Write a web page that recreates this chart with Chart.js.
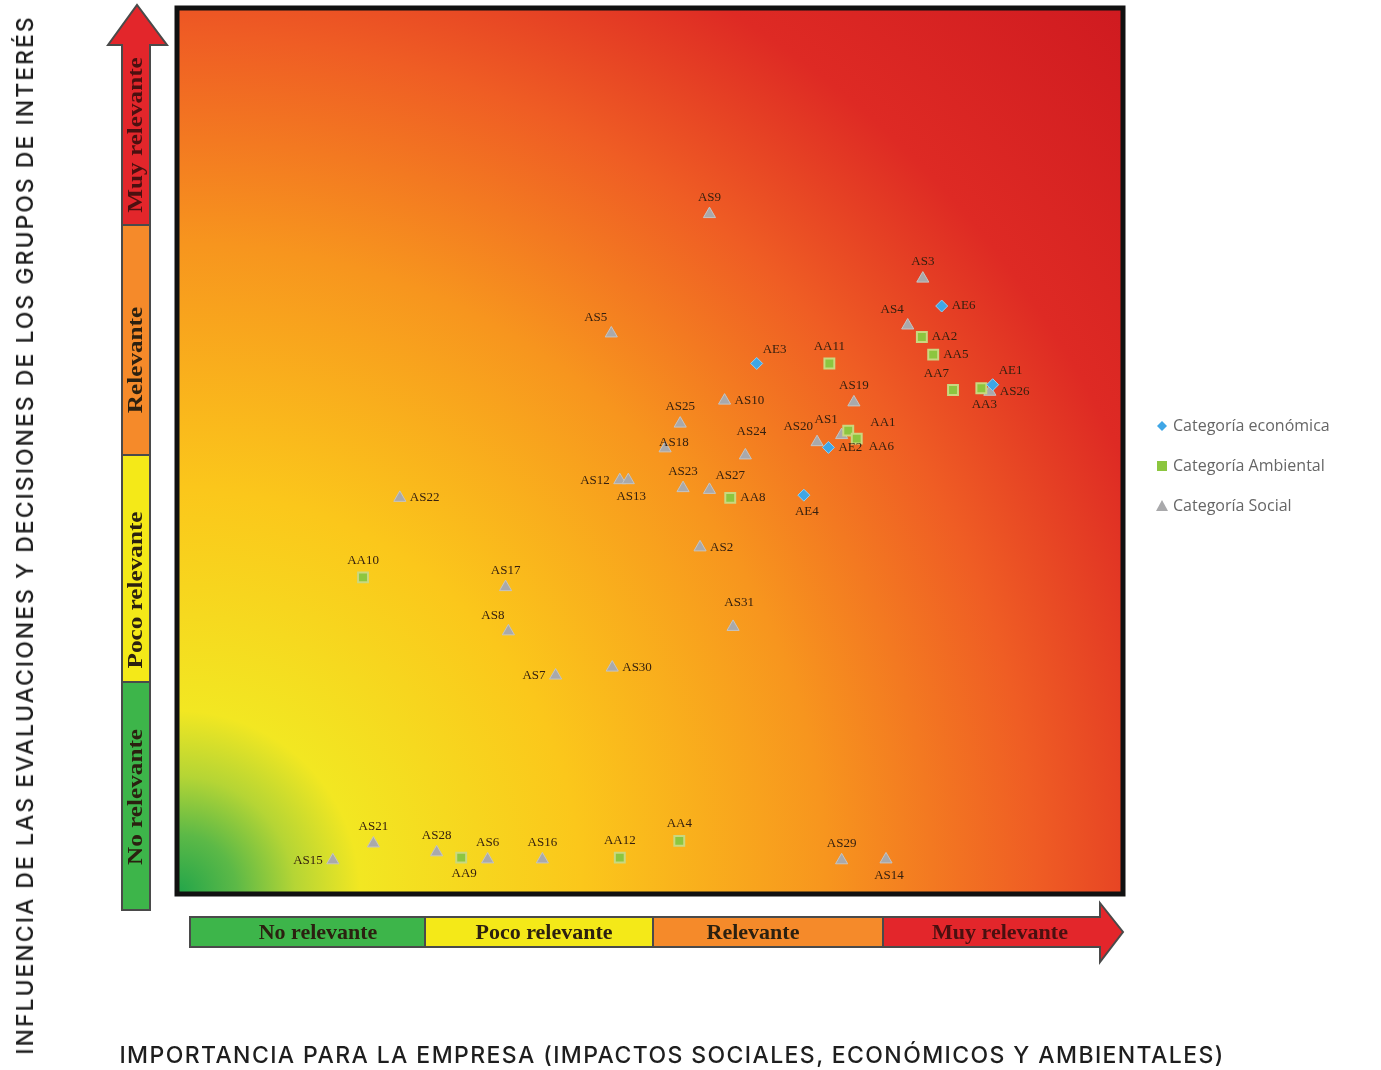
<!DOCTYPE html>
<html>
<head>
<meta charset="utf-8">
<script src="https://cdn.jsdelivr.net/npm/chart.js@4.4.0/dist/chart.umd.min.js"></script>
<style>
  body { margin: 0; background: #fff; width: 1381px; height: 1070px; overflow: hidden; position: relative; }
  #wrap { position: absolute; left: 0; top: 0; width: 1381px; height: 1070px; }
  .ytitle { position: absolute; left: 25px; top: 535px; transform: translate(-50%, -50%) rotate(-90deg);
    white-space: nowrap; font-family: Inter, sans-serif; font-weight: 500; font-size: 23px; color: #1e1e1e; letter-spacing: 2px; }
  .xtitle { position: absolute; left: 672px; top: 1055px; transform: translate(-50%, -50%);
    white-space: nowrap; font-family: Inter, sans-serif; font-weight: 500; font-size: 23px; color: #1e1e1e; letter-spacing: 1.4px; }
</style>
</head>
<body>
<div id="wrap"><canvas id="matriz" width="1381" height="1070"></canvas></div>
<div class="ytitle">INFLUENCIA DE LAS EVALUACIONES Y DECISIONES DE LOS GRUPOS DE INTERÉS</div>
<div class="xtitle">IMPORTANCIA PARA LA EMPRESA (IMPACTOS SOCIALES, ECONÓMICOS Y AMBIENTALES)</div>
<script>
// categorias de relevancia (ejes)
var niveles = ['No relevante', 'Poco relevante', 'Relevante', 'Muy relevante'];
var colNiveles = ['#3db54a', '#f4e918', '#f58a2a', '#e3262b'];

// Categoria economica
var ecoNombres = ['AE6', 'AE3', 'AE1', 'AE2', 'AE4'];
var ecoX = [80.9, 61.3, 86.3, 68.9, 66.3];
var ecoY = [66.4, 59.9, 57.5, 50.4, 45.0];
var ecoPos = ['r', 'tr', 'tr', 'r', 'b'];

// Categoria ambiental
var ambNombres = ['AA11', 'AA2', 'AA5', 'AA7', 'AA3', 'AA1', 'AA6', 'AA8', 'AA10', 'AA9', 'AA12', 'AA4'];
var ambX = [69.0, 78.8, 80.0, 82.1, 85.1, 71.0, 71.9, 58.5, 19.6, 30.0, 46.8, 53.1];
var ambY = [59.9, 62.9, 60.9, 56.9, 57.1, 52.3, 51.4, 44.7, 35.7, 4.0, 4.0, 5.9];
var ambPos = ['t', 'r', 'r', 'tl', 'b', 'rt', 'rb', 'r', 't', 'b', 't', 't'];

// Categoria social
var socNombres = ['AS9', 'AS3', 'AS4', 'AS5', 'AS26', 'AS19', 'AS10', 'AS25', 'AS1', 'AS20', 'AS24', 'AS18',
  'AS12', 'AS13', 'AS23', 'AS27', 'AS22', 'AS2', 'AS17', 'AS31', 'AS8', 'AS7', 'AS30',
  'AS21', 'AS15', 'AS28', 'AS6', 'AS16', 'AS29', 'AS14'];
var socX = [56.3, 78.9, 77.3, 45.9, 86.0, 71.6, 57.9, 53.2, 70.3, 67.7, 60.1, 51.6,
  46.8, 47.7, 53.5, 56.3, 23.5, 55.3, 34.7, 58.8, 35.0, 40.0, 46.0,
  20.7, 16.4, 27.4, 32.8, 38.6, 70.3, 75.0];
var socY = [76.8, 69.5, 64.2, 63.3, 56.7, 55.5, 55.7, 53.1, 51.8, 51.0, 49.5, 50.3,
  46.7, 46.7, 45.8, 45.6, 44.7, 39.1, 34.6, 30.1, 29.6, 24.6, 25.5,
  5.6, 3.7, 4.6, 3.8, 3.8, 3.7, 3.8];
var socPos = ['t', 't', 'tl', 'tl', 'r', 't', 'r', 't', 'tl', 'tl', 'tt', 'c',
  'l', 'b', 't', 'tr', 'r', 'r', 't', 'tt', 'tl', 'l', 'r',
  't', 'l', 't', 't', 't', 't', 'b'];

function puntos(xs, ys, nombres, pos) {
  var out = [];
  for (var i in xs) {
    out.push({ x: xs[i], y: ys[i], nombre: nombres[i], pos: pos[i] });
  }
  return out;
}

var fondo = {
  id: 'fondo',
  beforeDatasetsDraw: function(chart) {
    var a = chart.chartArea, ctx = chart.ctx;
    ctx.save();
    var g = ctx.createRadialGradient(a.left, a.bottom, 0, a.left, a.bottom, 1300);
    g.addColorStop(0, '#22a54a');
    g.addColorStop(0.045, '#5cb947');
    g.addColorStop(0.09, '#b5d535');
    g.addColorStop(0.14, '#f2e722');
    g.addColorStop(0.31, '#fbc71b');
    g.addColorStop(0.5, '#f7951e');
    g.addColorStop(0.66, '#ef5d24');
    g.addColorStop(0.8, '#de2a24');
    g.addColorStop(1, '#cf1a20');
    ctx.fillStyle = g;
    ctx.fillRect(a.left, a.top, a.right - a.left, a.bottom - a.top);
    ctx.restore();
  },
  afterDraw: function(chart) {
    var a = chart.chartArea, ctx = chart.ctx;
    ctx.save();
    ctx.lineWidth = 5;
    ctx.strokeStyle = '#111';
    ctx.strokeRect(a.left - 1, a.top - 1, a.right - a.left + 2, a.bottom - a.top + 2);

    // flecha vertical
    var xs = 122, w = 28, cuts = [910, 682, 455, 225, 45];
    for (var i = 0; i < 4; i++) {
      ctx.fillStyle = colNiveles[i];
      ctx.fillRect(xs, cuts[i + 1], w, cuts[i] - cuts[i + 1]);
    }
    ctx.beginPath();
    ctx.moveTo(108, 45); ctx.lineTo(137, 5); ctx.lineTo(167, 45); ctx.closePath();
    ctx.fillStyle = colNiveles[3]; ctx.fill();
    ctx.lineWidth = 2; ctx.strokeStyle = '#4a4a4a';
    ctx.beginPath();
    ctx.moveTo(xs, 910); ctx.lineTo(xs, 45); ctx.lineTo(108, 45); ctx.lineTo(137, 5);
    ctx.lineTo(167, 45); ctx.lineTo(xs + w, 45); ctx.lineTo(xs + w, 910); ctx.closePath();
    ctx.stroke();
    for (var i = 1; i < 4; i++) {
      ctx.beginPath(); ctx.moveTo(xs, cuts[i]); ctx.lineTo(xs + w, cuts[i]); ctx.stroke();
    }
    ctx.font = 'bold 21px "Liberation Serif", serif';
    ctx.textAlign = 'center'; ctx.textBaseline = 'middle';
    var vMid = [797, 590, 360, 135];
    for (var i = 0; i < 4; i++) {
      ctx.save();
      ctx.translate(xs + w / 2 + 1, vMid[i]);
      ctx.rotate(-Math.PI / 2);
      ctx.scale(1.2, 1);
      ctx.fillStyle = i == 3 ? '#4a1010' : '#2b2010';
      ctx.fillText(niveles[i], 0, 0);
      ctx.restore();
    }

    // flecha horizontal
    var ys = 917, h = 30, hc = [190, 425, 653, 883, 1100];
    for (var i = 0; i < 4; i++) {
      ctx.fillStyle = colNiveles[i];
      ctx.fillRect(hc[i], ys, hc[i + 1] - hc[i], h);
    }
    ctx.beginPath();
    ctx.moveTo(1100, 903); ctx.lineTo(1123, 932); ctx.lineTo(1100, 962); ctx.closePath();
    ctx.fillStyle = colNiveles[3]; ctx.fill();
    ctx.beginPath();
    ctx.moveTo(190, ys); ctx.lineTo(1100, ys); ctx.lineTo(1100, 903); ctx.lineTo(1123, 932);
    ctx.lineTo(1100, 962); ctx.lineTo(1100, ys + h); ctx.lineTo(190, ys + h); ctx.closePath();
    ctx.stroke();
    for (var i = 1; i < 4; i++) {
      ctx.beginPath(); ctx.moveTo(hc[i], ys); ctx.lineTo(hc[i], ys + h); ctx.stroke();
    }
    ctx.font = 'bold 22px "Liberation Serif", serif';
    var hMid = [318, 544, 753, 1000];
    for (var i = 0; i < 4; i++) {
      ctx.fillStyle = i == 3 ? '#4a1010' : '#2b2010';
      ctx.fillText(niveles[i], hMid[i], ys + h / 2 + 1);
    }

    // leyenda
    ctx.font = '16px "Open Sans", sans-serif';
    ctx.textAlign = 'left';
    var ly = [426, 466, 506];
    chart.data.datasets.forEach(function(ds, k) {
      ctx.fillStyle = ds.backgroundColor;
      ctx.beginPath();
      if (k == 0) {
        ctx.moveTo(1162, ly[k] - 5); ctx.lineTo(1167, ly[k]); ctx.lineTo(1162, ly[k] + 5); ctx.lineTo(1157, ly[k]);
      } else if (k == 1) {
        ctx.rect(1157, ly[k] - 5, 10, 10);
      } else {
        ctx.moveTo(1162, ly[k] - 6); ctx.lineTo(1168, ly[k] + 5); ctx.lineTo(1156, ly[k] + 5);
      }
      ctx.closePath(); ctx.fill();
      ctx.fillStyle = '#666';
      ctx.fillText(ds.label, 1173, ly[k]);
    });
    ctx.restore();
  },
  afterDatasetsDraw: function(chart) {
    var ctx = chart.ctx;
    ctx.save();
    ctx.font = '13px "Liberation Serif", serif';
    ctx.fillStyle = '#35200f';
    ctx.textBaseline = 'middle';
    chart.data.datasets.forEach(function(ds, k) {
      chart.getDatasetMeta(k).data.forEach(function(el, j) {
        var p = ds.data[j], x = el.x, y = el.y;
        var dx = 0, dy = 0, al = 'center';
        if (p.pos == 't') { dy = -17; }
        else if (p.pos == 'tt') { dy = -24; dx = 6; }
        else if (p.pos == 'b') { dy = 16; dx = 3; }
        else if (p.pos == 'r') { dx = 10; al = 'left'; }
        else if (p.pos == 'rt') { dx = 22; dy = -8; al = 'left'; }
        else if (p.pos == 'rb') { dx = 12; dy = 8; al = 'left'; }
        else if (p.pos == 'l') { dx = -10; al = 'right'; }
        else if (p.pos == 'tl') { dx = -4; dy = -16; al = 'right'; }
        else if (p.pos == 'tr') { dx = 6; dy = -14; al = 'left'; }
        else if (p.pos == 'c') { dx = -6; dy = -6; al = 'left'; }
        ctx.textAlign = al;
        ctx.fillText(p.nombre, x + dx, y + dy);
      });
    });
    ctx.restore();
  }
};

var chartdata = {
  datasets: [
    {
      label: 'Categoría económica',
      data: puntos(ecoX, ecoY, ecoNombres, ecoPos),
      pointStyle: 'rectRot',
      backgroundColor: '#3fa6e6',
      borderColor: '#8fd0f5',
      borderWidth: 1,
      pointRadius: 6
    },
    {
      label: 'Categoría Ambiental',
      data: puntos(ambX, ambY, ambNombres, ambPos),
      pointStyle: 'rect',
      backgroundColor: '#8cc63f',
      borderColor: '#c9d880',
      borderWidth: 2,
      pointRadius: 7
    },
    {
      label: 'Categoría Social',
      data: puntos(socX, socY, socNombres, socPos),
      pointStyle: 'triangle',
      backgroundColor: '#a9a9ab',
      borderColor: '#c4c4c4',
      borderWidth: 1,
      pointRadius: 7
    }
  ]
};

var ctx = document.getElementById('matriz');
var grafico = new Chart(ctx, {
  type: 'scatter',
  data: chartdata,
  options: {
    responsive: false,
    animation: false,
    layout: { padding: { left: 178, right: 259, top: 8, bottom: 177 } },
    scales: {
      x: { display: false, min: 0, max: 100 },
      y: { display: false, min: 0, max: 100 }
    },
    plugins: { legend: { display: false }, tooltip: { enabled: false } }
  },
  plugins: [fondo]
});
</script>
</body>
</html>
